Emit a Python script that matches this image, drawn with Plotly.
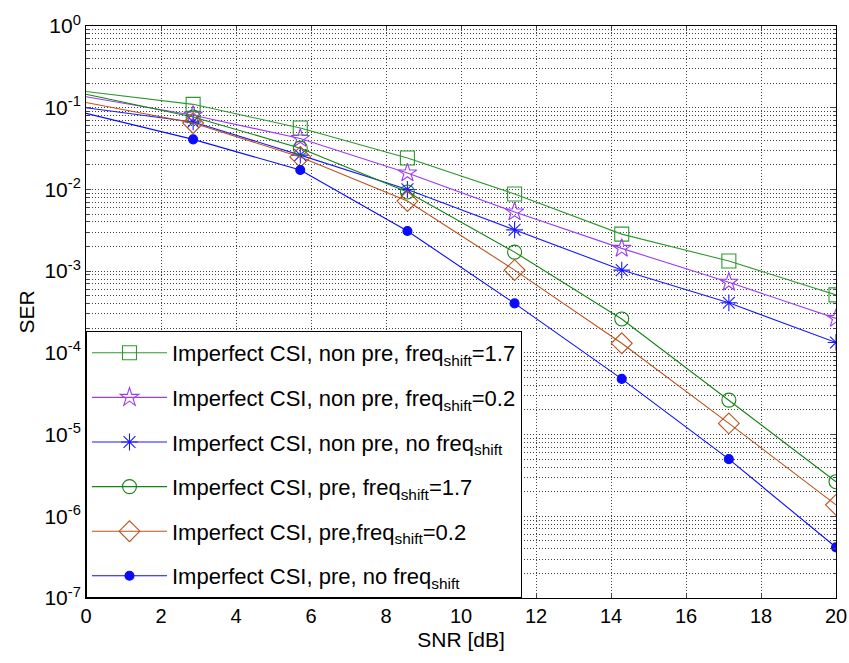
import plotly.graph_objects as go

snr = [0, 2.857, 5.714, 8.571, 11.429, 14.286, 17.143, 20]

ser_np_17 = [0.158, 0.110, 0.0565, 0.0242, 0.0088, 0.00284, 0.00133, 0.000512]
ser_np_02 = [0.136, 0.081, 0.0420, 0.0159, 0.0053, 0.00190, 0.00073, 0.000264]
ser_np_no = [0.100, 0.067, 0.0263, 0.0100, 0.0032, 0.00103, 0.00041, 0.000134]
ser_p_17 = [0.146, 0.077, 0.0320, 0.0093, 0.00171, 0.000260, 2.64e-5, 2.65e-6]
ser_p_02 = [0.116, 0.065, 0.0250, 0.0072, 0.00103, 0.000131, 1.37e-5, 1.38e-6]
ser_p_no = [0.0854, 0.041, 0.0173, 0.0031, 0.000403, 4.8e-5, 5.0e-6, 4.17e-7]

names = [
    "Imperfect CSI, non pre, freq<sub>shift</sub>=1.7",
    "Imperfect CSI, non pre, freq<sub>shift</sub>=0.2",
    "Imperfect CSI, non pre, no freq<sub>shift</sub>",
    "Imperfect CSI, pre, freq<sub>shift</sub>=1.7",
    "Imperfect CSI, pre,freq<sub>shift</sub>=0.2",
    "Imperfect CSI, pre, no freq<sub>shift</sub>",
]
series = [ser_np_17, ser_np_02, ser_np_no, ser_p_17, ser_p_02, ser_p_no]
colors = ["#2e9a2e", "#9b3cf5", "#1a1aff", "#148414", "#bb531e", "#0a0aff"]
symbols = ["square-open", "star-open", "asterisk-open", "circle-open", "diamond-open", "circle"]
msizes = [14, 14, 14, 14, 16, 9]

ytickvals = [1, 1e-1, 1e-2, 1e-3, 1e-4, 1e-5, 1e-6, 1e-7]
yticktext = ["10<sup>0</sup>", "10<sup>-1</sup>", "10<sup>-2</sup>", "10<sup>-3</sup>",
             "10<sup>-4</sup>", "10<sup>-5</sup>", "10<sup>-6</sup>", "10<sup>-7</sup>"]
xtickvals = [0, 2, 4, 6, 8, 10, 12, 14, 16, 18, 20]

fig = go.Figure()
for i, (ys, nm, c, s, ms) in enumerate(zip(series, names, colors, symbols, msizes)):
    fig.add_trace(go.Scatter(
        x=snr[:2], y=ys[:2], mode="lines", line=dict(color=c, width=1.1),
        showlegend=False, legendgroup=f"g{i}", hoverinfo="skip"))
    fig.add_trace(go.Scatter(
        x=snr[1:], y=ys[1:], mode="lines+markers", name=nm, legendgroup=f"g{i}",
        line=dict(color=c, width=1.1),
        marker=dict(symbol=s, size=ms, color=c, line=dict(color=c, width=1.1))))

grid_col = "#444444"
grid_dash = "1px,2px"
fig.update_layout(
    width=849, height=663,
    margin=dict(l=86, r=13, t=26, b=65),
    paper_bgcolor="white", plot_bgcolor="white",
    font=dict(family="Liberation Sans, Arial, sans-serif", color="black", size=20),
    legend=dict(
        x=0, y=0, xanchor="left", yanchor="bottom",
        bgcolor="white", bordercolor="black", borderwidth=1,
        font=dict(size=22), itemwidth=75, tracegroupgap=13,
        traceorder="grouped",
    ),
    xaxis=dict(
        range=[0, 20], tickvals=xtickvals, ticks="inside", ticklen=5,
        showline=True, linecolor="black", linewidth=1, mirror="ticks",
        showgrid=True, gridcolor=grid_col, griddash=grid_dash, gridwidth=1,
        zeroline=False, tickfont=dict(size=20), automargin=False,
        title=dict(text="SNR [dB]", font=dict(size=21), standoff=6),
    ),
    yaxis=dict(
        type="log", range=[-7, 0], tickvals=ytickvals, ticktext=yticktext,
        ticks="inside", ticklen=5,
        showline=True, linecolor="black", linewidth=1, mirror="ticks",
        showgrid=True, gridcolor=grid_col, griddash=grid_dash, gridwidth=1,
        zeroline=False, tickfont=dict(size=21), automargin=False,
        minor=dict(dtick="D1", showgrid=True, gridcolor=grid_col, griddash=grid_dash,
                   gridwidth=1, ticks="inside", ticklen=3),
        title=dict(text="SER", font=dict(size=21), standoff=4),
    ),
)

fig.write_html("out.html")
